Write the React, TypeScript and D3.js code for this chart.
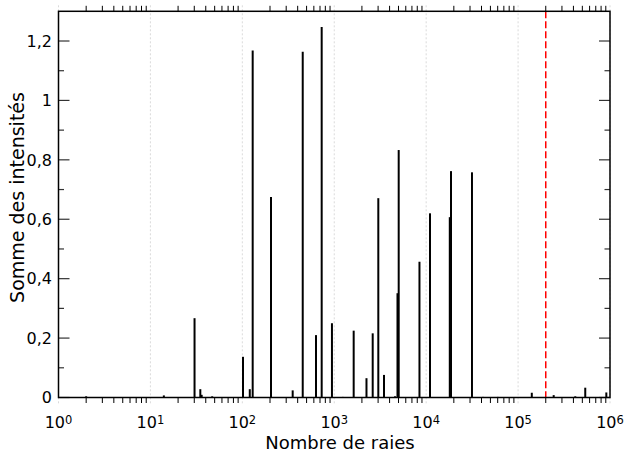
import React from "react";
import * as d3 from "d3";

const lineCounts = [2, 14, 30.2, 34.9, 36.1, 47, 101.7, 120.5, 129.6, 205, 353, 454, 633, 730, 944, 1235, 1627, 2242, 2620, 3015, 3475, 4580, 4875, 5025, 8455, 11010, 18070, 18630, 31500, 41500, 60000, 141000, 244000, 419000, 538000, 912000];
const intensitySums = [0.004, 0.007, 0.267, 0.028, 0.009, 0.004, 0.137, 0.028, 1.168, 0.675, 0.024, 1.164, 0.21, 1.247, 0.25, 0.002, 0.225, 0.065, 0.216, 0.671, 0.076, 0.004, 0.351, 0.833, 0.457, 0.62, 0.607, 0.762, 0.758, 0.002, 0.002, 0.016, 0.008, 0.004, 0.033, 0.017];
const limitLine = 2e5;
const yMajorTicks = [0, 0.2, 0.4, 0.6, 0.8, 1, 1.2];
const yMinorTicks = [0.1, 0.3, 0.5, 0.7, 0.9, 1.1];
const xDecades = [0, 1, 2, 3, 4, 5, 6];
const xTitle = "Nombre de raies";
const yTitle = "Somme des intensités";

const W = 624, H = 453;
const L = 58.5, R = 610, T = 11.3, B = 397.5;

export default function App() {
  const x = d3.scaleLog().domain([1, 1e6]).range([L, R]);
  const y = d3.scaleLinear().domain([0, 1.3]).range([B, T]);
  const fmt = (v: number) => d3.format("~g")(v).replace(".", ",");
  const minorX: number[] = [];
  for (let k = 0; k < 6; k++) for (let m = 2; m <= 9; m++) minorX.push(m * Math.pow(10, k));
  const font = "DejaVu Sans, sans-serif";
  return (
    <svg width={W} height={H} style={{ position: "absolute", left: 0, top: 0, background: "#fff" }} fontFamily={font}>
      {/* decade grid lines */}
      {xDecades.map((d) => (
        <line key={"g" + d} x1={x(Math.pow(10, d))} x2={x(Math.pow(10, d))} y1={T - 6} y2={B + 6}
          stroke="#d0d0d0" strokeWidth={0.8} strokeDasharray="2,2" />
      ))}
      {/* minor x ticks, outward top and bottom */}
      {minorX.map((v, i) => (
        <g key={"mx" + i}>
          <line x1={x(v)} x2={x(v)} y1={B} y2={B + 5.5} stroke="#000" strokeWidth={1} />
          <line x1={x(v)} x2={x(v)} y1={T} y2={T - 5.5} stroke="#000" strokeWidth={1} />
        </g>
      ))}
      {/* y ticks inside */}
      {yMajorTicks.map((v) => (
        <g key={"my" + v}>
          <line x1={L} x2={L + 11} y1={y(v)} y2={y(v)} stroke="#333" strokeWidth={1.2} />
          <line x1={R} x2={R - 11} y1={y(v)} y2={y(v)} stroke="#333" strokeWidth={1.2} />
          <text x={52} y={y(v)} dy="0.36em" textAnchor="end" fontSize={16} fill="#000">{fmt(v)}</text>
        </g>
      ))}
      {yMinorTicks.map((v) => (
        <g key={"ny" + v}>
          <line x1={L} x2={L + 5.5} y1={y(v)} y2={y(v)} stroke="#333" strokeWidth={1.2} />
          <line x1={R} x2={R - 5.5} y1={y(v)} y2={y(v)} stroke="#333" strokeWidth={1.2} />
        </g>
      ))}
      {/* bars */}
      {lineCounts.map((c, i) => (
        <line key={"b" + i} x1={x(c)} x2={x(c)} y1={y(0)} y2={y(intensitySums[i])} stroke="#000" strokeWidth={2} />
      ))}
      {/* limit */}
      <line x1={x(limitLine)} x2={x(limitLine)} y1={T} y2={B} stroke="#ff0000" strokeWidth={1.5} strokeDasharray="7,3" />
      {/* frame */}
      <rect x={L} y={T} width={R - L} height={B - T} fill="none" stroke="#000" strokeWidth={1.5} />
      {/* x tick labels */}
      {xDecades.map((d) => (
        <text key={"xl" + d} x={x(Math.pow(10, d))} y={427.5} textAnchor="middle" fontSize={16} fill="#000">
          10<tspan fontSize={11.5} dy={-4}>{d}</tspan>
        </text>
      ))}
      <text x={340} y={448.5} textAnchor="middle" fontSize={18} fill="#000">{xTitle}</text>
      <text transform={`translate(24,197.5) rotate(-90)`} textAnchor="middle" fontSize={19} fill="#000">{yTitle}</text>
    </svg>
  );
}
